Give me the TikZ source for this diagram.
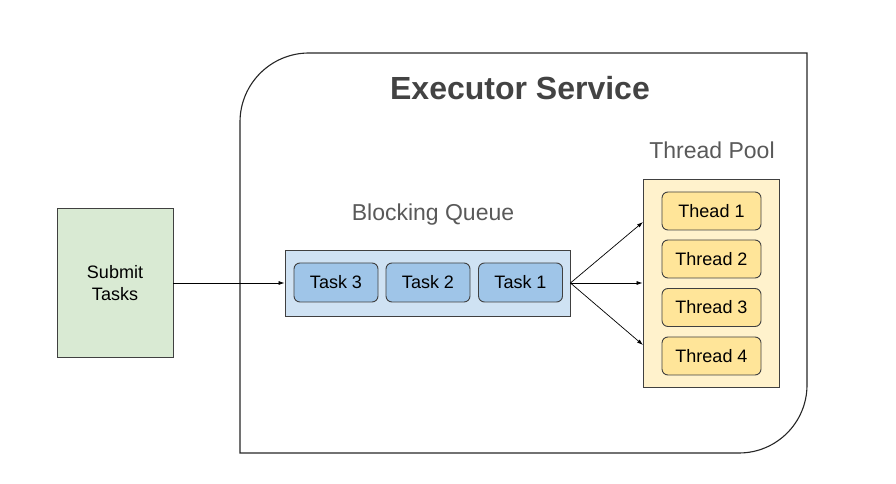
\documentclass[tikz,border=0pt]{standalone}
\usepackage{fontspec}
\setmainfont{Liberation Sans}
\usepackage{tikz}
\usetikzlibrary{arrows.meta}
\usetikzlibrary{positioning}
\definecolor{submitgreen}{HTML}{D9EAD3}
\definecolor{queueblue}{HTML}{CFE2F3}
\definecolor{taskblue}{HTML}{9FC5E8}
\definecolor{poolyellow}{HTML}{FFF2CC}
\definecolor{threadyellow}{HTML}{FFE599}
\definecolor{labelgray}{HTML}{595959}
\definecolor{titlegray}{HTML}{434343}
\tikzset{>={Latex[length=6pt,width=4pt]}}
\tikzstyle{box} = [draw=black!75, line width=0.9pt, inner sep=0, font=\fontsize{18}{22}\selectfont]
\tikzstyle{taskbox} = [box, rounded corners=6pt, fill=taskblue, minimum width=84pt, minimum height=39pt]
\tikzstyle{threadbox} = [box, rounded corners=6pt, fill=threadyellow, minimum width=99pt, minimum height=38pt]
\tikzstyle{label} = [draw=none, text=labelgray, font=\fontsize{23}{26}\selectfont]

\begin{document}
\begin{tikzpicture}[x=1pt, y=1pt]
\useasboundingbox (0,0) rectangle (896,484);
% executor service frame
\draw [line width=1.1pt, draw=black!85] (240,31) -- (240,362) arc[start angle=180, end angle=90, radius=69] -- (807,431) -- (807,99) arc[start angle=0, end angle=-90, radius=68] -- cycle;
\node [draw=none, text=titlegray, font=\bfseries\fontsize{32}{36}\selectfont] (title) at (520, 396) {Executor Service};
\node [box, fill=submitgreen, minimum width=116pt, minimum height=149pt, align=center] (submit) at (115, 201) {Submit\\Tasks};
% queue
\node [box, fill=queueblue, minimum width=285pt, minimum height=66pt] (queue) at (427.5, 201) {};
\node [label] (qlabel) at (433, 269) {Blocking Queue};
\node [taskbox] (task3) at (336, 201.5) {Task 3};
\node [taskbox] (task2) at (428, 201.5) {Task 2};
\node [taskbox] (task1) at (520.5, 201.5) {Task 1};
% pool
\node [box, fill=poolyellow, minimum width=136pt, minimum height=208pt] (pool) at (711, 201) {};
\node [label] (plabel) at (712, 334) {Thread Pool};
\node [threadbox] (thr1) at (711.5, 273) {Thead 1};
\node [threadbox] (thr2) at (711.5, 225) {Thread 2};
\node [threadbox] (thr3) at (711.5, 176.5) {Thread 3};
\node [threadbox] (thr4) at (711.5, 128) {Thread 4};
\coordinate (in1) at (643, 262);
\coordinate (in3) at (643, 139);
\draw [->, line width=0.7pt] (submit) to (queue);
\draw [->, line width=0.7pt] (queue.east) to (in1);
\draw [->, line width=0.7pt] (queue.east) to (pool.west);
\draw [->, line width=0.7pt] (queue.east) to (in3);
\end{tikzpicture}
\end{document}
